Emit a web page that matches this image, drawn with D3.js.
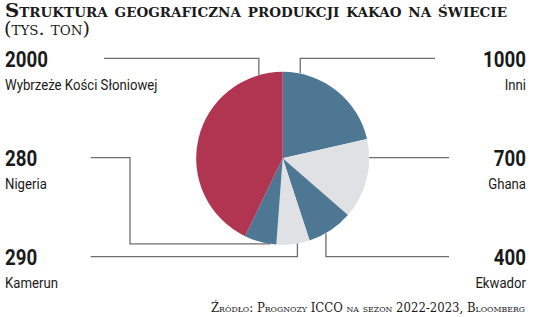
<!DOCTYPE html>
<html>
<head>
<meta charset="utf-8">
<script src="https://cdn.jsdelivr.net/npm/d3@7"></script>
<style>
  body { margin: 0; background: #fff; }
  .title { font-family: 'DejaVu Serif', serif; font-weight: bold; font-variant: small-caps; fill: #1a1a1a; }
  .subtitle { font-family: 'DejaVu Serif', serif; font-variant: small-caps; fill: #1a1a1a; }
  .source { font-family: 'DejaVu Serif', serif; font-variant: small-caps; fill: #1a1a1a; }
  .num { font-family: Roboto, sans-serif; font-weight: bold; fill: #1a1a1a; }
  .lab { font-family: Roboto, sans-serif; fill: #1a1a1a; }
  .leader { fill: none; stroke: #6e6e6e; stroke-width: 1.3; }
</style>
</head>
<body>
<svg id="chart" width="536" height="317"></svg>
<script>
// production in thousand tonnes, clockwise from 12 o'clock
var countries = ['Inni', 'Ghana', 'Ekwador', 'Kamerun', 'Nigeria', 'Wybrzeże Kości Słoniowej'];
var values = [1000, 700, 400, 290, 280, 2000];
var colors = ['#4e7794', '#e0e1e4', '#4e7794', '#e0e1e4', '#4e7794', '#b13551'];

// where each label sits and where its leader touches the pie
// row: 0 top, 1 middle, 2 bottom; angle in degrees from 12 o'clock
var layout = [
  {side: 'right', row: 0, angle: 11.7, route: 'v'},
  {side: 'right', row: 1, angle: 90, route: 'h'},
  {side: 'right', row: 2, angle: 150, route: 'v'},
  {side: 'left', row: 2, angle: 170.2, route: 'v'},
  {side: 'left', row: 1, angle: 188, route: 'hvh', elbowX: 130},
  {side: 'left', row: 0, angle: 344, route: 'v'}
];

var cx = 282.7, cy = 158.3, r = 86.5;
var rowY = [58.3, 157.7, 256.7];
var leftText = 5, rightText = 526;
var leftEnd = [104, 90.7, 90.7], rightEnd = [435, 449, 449];
var squeeze = 0.85;

var svg = d3.select('#chart');

svg.append('text')
  .attr('class', 'title')
  .attr('x', 5).attr('y', 16.7)
  .attr('font-size', 19)
  .attr('textLength', 502)
  .attr('lengthAdjust', 'spacingAndGlyphs')
  .text('Struktura geograficzna produkcji kakao na świecie');

svg.append('text')
  .attr('class', 'subtitle')
  .attr('x', 4).attr('y', 34.5)
  .attr('font-size', 18.5)
  .attr('textLength', 86)
  .attr('lengthAdjust', 'spacingAndGlyphs')
  .text('(tys. ton)');

var pie = d3.pie().sort(null).value(function(d) { return d; });
var arc = d3.arc().innerRadius(0).outerRadius(r);
var arcs = pie(values);

svg.append('g')
  .attr('transform', 'translate(' + cx + ',' + cy + ')')
  .selectAll('path')
  .data(arcs)
  .enter()
  .append('path')
    .attr('d', arc)
    .attr('fill', function(d, i) { return colors[i]; });

// leader lines
function edgePoint(deg) {
  var a = deg * Math.PI / 180;
  return [cx + r * Math.sin(a), cy - r * Math.cos(a)];
}

layout.forEach(function(l, i) {
  var p = edgePoint(l.angle);
  var y = rowY[l.row];
  var endX = l.side === 'left' ? leftEnd[l.row] : rightEnd[l.row];
  var pts;
  if (l.route === 'v') pts = [p, [p[0], y], [endX, y]];
  else if (l.route === 'h') pts = [[p[0], y], [endX, y]];
  else pts = [p, [l.elbowX, p[1]], [l.elbowX, y], [endX, y]];
  svg.append('path')
    .attr('class', 'leader')
    .attr('d', d3.line()(pts));

  var tx = l.side === 'left' ? leftText : rightText;
  var g = svg.append('g')
    .attr('transform', 'translate(' + tx + ',0) scale(' + squeeze + ',1)')
    .attr('text-anchor', l.side === 'left' ? 'start' : 'end');
  g.append('text')
    .attr('class', 'num')
    .attr('y', y + 8.4)
    .attr('font-size', 22)
    .text(values[i]);
  g.append('text')
    .attr('class', 'lab')
    .attr('y', y + 31.6)
    .attr('font-size', 15.5)
    .text(countries[i]);
});

svg.append('text')
  .attr('class', 'source')
  .attr('x', 525).attr('y', 311.5)
  .attr('text-anchor', 'end')
  .attr('font-size', 12)
  .attr('textLength', 314)
  .attr('lengthAdjust', 'spacingAndGlyphs')
  .text('Źródło: Prognozy ICCO na sezon 2022-2023, Bloomberg');
</script>
</body>
</html>
